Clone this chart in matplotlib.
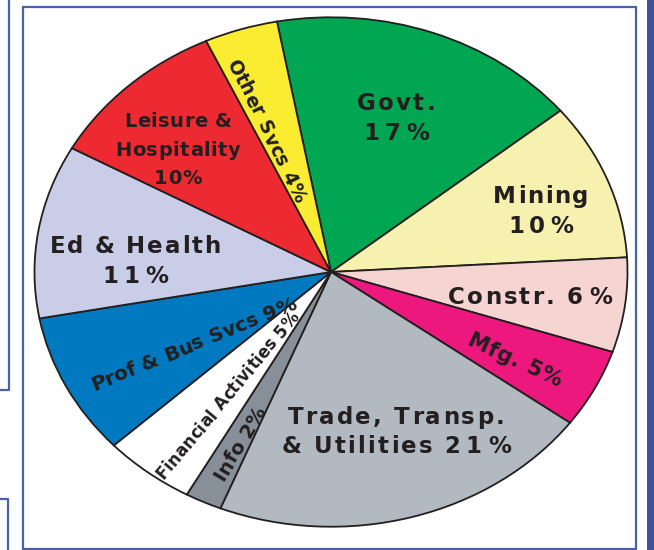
import math
import matplotlib
matplotlib.use('Agg')
import matplotlib.pyplot as plt
from matplotlib.patches import Rectangle
from matplotlib.lines import Line2D
from matplotlib.font_manager import FontProperties, findfont
from matplotlib.ft2font import FT2Font

try:
    from matplotlib.ft2font import LoadFlags
    NO_HINT = LoadFlags.NO_HINTING
except ImportError:
    from matplotlib.ft2font import LOAD_NO_HINTING as NO_HINT

W, H, DPI = 654, 550, 100

# slice data, clockwise from Govt.
sectors = ['Govt.', 'Mining', 'Constr.', 'Mfg.', 'Trade, Transp. & Utilities', 'Info',
           'Financial Activities', 'Prof & Bus Svcs', 'Ed & Health', 'Leisure & Hospitality',
           'Other Svcs']
shares = [17, 10, 6, 5, 21, 2, 5, 9, 11, 10, 4]
labels = ['Govt.\n17%', 'Mining\n10%', 'Constr. 6%', 'Mfg. 5%', 'Trade, Transp.\n& Utilities 21%',
          'Info 2%', 'Financial Activities 5%', 'Prof & Bus Svcs 9%', 'Ed & Health\n11%',
          'Leisure &\nHospitality\n10%', 'Other Svcs 4%']
colors = ['#00a651', '#f7f1b0', '#f5d4d1', '#ed187d', '#b3b9c1', '#878f98',
          '#ffffff', '#0079c1', '#c9cde7', '#ed2a31', '#f9ec31']

# label layout: pixel centre, rotation, font size, letter tracking (px), line step (px)
label_pos = [(396, 117), (541, 209.5), (530, 296), (515, 359), (396, 430.5), (239, 443),
             (227, 395), (193, 343), (135, 260), (178, 148.5), (267, 130)]
label_rot = [0, 0, 0, -25, 0, 59, 50, 22, 0, 0, -64]
label_size = [16.5, 16.5, 16.5, 15.5, 16.5, 14, 12, 14.5, 16.5, 14, 13.5]
label_track = [2.2, 1.6, 2.2, 0.5, 2.2, 0, 0, 0, 1.8, 0.5, 0.3]
label_step = [30, 30, 30, 30, 29, 30, 30, 30, 30, 28.5, 30]

text_col = '#231f20'
frame_col = '#4862a8'

prop = FontProperties(family='DejaVu Sans', weight='bold')
ft = FT2Font(findfont(prop))


def fx(px):
    return px / W


def fy(py):
    return 1 - py / H


def draw_label(fig, text, cx, cy, rot, fs, track, step):
    # draws a label letter by letter so it can be spaced out like the original
    ft.set_size(fs, DPI)
    em = fs * DPI / 72
    cap = 0.729 * em
    th = math.radians(rot)
    ux, uy = math.cos(th), math.sin(th)
    vx, vy = -math.sin(th), math.cos(th)
    X0, Y0 = cx, H - cy
    lines = text.split('\n')
    n = len(lines)
    for i, line in enumerate(lines):
        base = ((n - 1) / 2 - i) * step - cap / 2
        advs = []
        for k, c in enumerate(line):
            g = ft.load_char(ord(c), flags=NO_HINT)
            extra = 0
            if k > 0 and track > 1:
                if c == '%':
                    extra = 4
                elif c.isdigit() and line[k - 1].isdigit():
                    extra = 3
            advs.append((g.linearHoriAdvance / 65536, extra))
        total = sum(a + e for a, e in advs) + track * (len(line) - 1)
        s = -total / 2
        for k, c in enumerate(line):
            a, e = advs[k]
            s += e
            if c != ' ':
                px = X0 + ux * s + vx * base
                py = Y0 + uy * s + vy * base
                fig.text(px / W, py / H, c, ha='left', va='baseline', rotation=rot,
                         rotation_mode='anchor', fontsize=fs, fontweight='bold',
                         color=text_col, family='DejaVu Sans')
            s += a + track


fig = plt.figure(figsize=(W / DPI, H / DPI), dpi=DPI)
fig.patch.set_facecolor('white')

# frames
fig.add_artist(Rectangle((fx(23), fy(549)), fx(636) - fx(23), fy(7) - fy(549),
                         transform=fig.transFigure, fill=False, edgecolor=frame_col, lw=1.6))
fig.add_artist(Line2D([fx(9), fx(9), fx(0)], [fy(0), fy(390), fy(390)],
                      transform=fig.transFigure, color=frame_col, lw=1.6))
fig.add_artist(Line2D([fx(0), fx(8), fx(8)], [fy(499), fy(499), fy(550)],
                      transform=fig.transFigure, color=frame_col, lw=1.6))
fig.add_artist(Rectangle((fx(647), 0), fx(654) - fx(647), 1, transform=fig.transFigure,
                         facecolor='#3b5399', edgecolor='none'))

# elliptical pie
left, right, top, bottom = 33, 629, 16, 528
ax = fig.add_axes([fx(left), fy(bottom), fx(right) - fx(left), fy(top) - fy(bottom)])
ax.pie(shares, colors=colors, startangle=100.5, counterclock=False, radius=1,
       wedgeprops=dict(edgecolor=text_col, linewidth=1.3))
ax.set_aspect('auto')
ax.set_xlim(-1.005, 1.005)
ax.set_ylim(-1.005, 1.005)
ax.axis('off')

for lab, (px, py), rot, fs, tr, st in zip(labels, label_pos, label_rot, label_size,
                                          label_track, label_step):
    draw_label(fig, lab, px, py, rot, fs, tr, st)

fig.savefig('out.png', dpi=DPI)
